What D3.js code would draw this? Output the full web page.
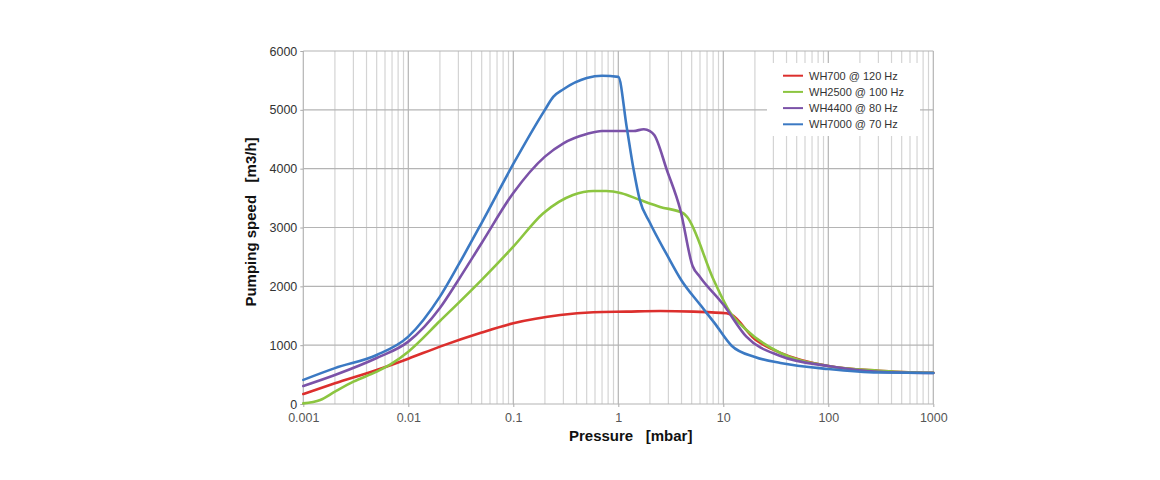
<!DOCTYPE html>
<html>
<head>
<meta charset="utf-8">
<script src="https://cdn.jsdelivr.net/npm/d3@7"></script>
<style>
  html, body { margin: 0; padding: 0; background: #fff; }
  svg { display: block; font-family: "Liberation Sans", Arial, Helvetica, sans-serif; }
</style>
</head>
<body>
<svg id="chart" width="1160" height="480"></svg>
<script>
// ---- data ----
const xTickValues = [0.001, 0.01, 0.1, 1, 10, 100, 1000];
const xTickLabels = ["0.001", "0.01", "0.1", "1", "10", "100", "1000"];
const yTickValues = [0, 1000, 2000, 3000, 4000, 5000, 6000];

const seriesNames = ["WH700 @ 120 Hz", "WH2500 @ 100 Hz", "WH4400 @ 80 Hz", "WH7000 @ 70 Hz"];
const seriesColors = ["#dc2f2d", "#8cc540", "#7b52a8", "#3b79c3"];

const wh700P = [0.001, 0.002, 0.005, 0.01, 0.02, 0.05, 0.1, 0.28, 0.58, 1.2, 2.5, 5.2, 10.7, 11.8, 20, 35, 100, 300, 1000];
const wh700S = [170, 351, 578, 770, 975, 1215, 1372, 1513, 1559, 1570, 1581, 1570, 1542, 1520, 1100, 870, 646, 566, 530];

const wh2500P = [0.001, 0.00145, 0.002, 0.003, 0.005, 0.007, 0.01, 0.02, 0.05, 0.1, 0.193, 0.37, 0.58, 0.77, 1.07, 1.6, 2.5, 4.16, 4.5, 8.1, 11.5, 16.6, 35, 100, 300, 1000];
const wh2500S = [10, 68, 210, 380, 550, 690, 890, 1410, 2110, 2674, 3242, 3553, 3621, 3621, 3582, 3470, 3350, 3242, 3185, 2108, 1570, 1258, 867, 646, 566, 530];

const wh4400P = [0.001, 0.002, 0.005, 0.01, 0.02, 0.03, 0.05, 0.1, 0.2, 0.3, 0.5, 0.7, 1.0, 1.4, 1.75, 2.0, 2.2, 2.9, 3.9, 5.1, 6.0, 10, 16.6, 35, 100, 300, 1000];
const wh4400S = [306, 493, 782, 1060, 1632, 2108, 2737, 3587, 4205, 4432, 4590, 4641, 4641, 4640, 4670, 4640, 4573, 3978, 3298, 2346, 2160, 1690, 1144, 816, 646, 549, 527];

const wh7000P = [0.001, 0.002, 0.005, 0.01, 0.02, 0.03, 0.05, 0.1, 0.2, 0.24, 0.3, 0.5, 0.7, 1.0, 1.2, 1.4, 1.6, 2.0, 2.9, 4.0, 6.0, 8.3, 12, 20, 35, 100, 300, 1000];
const wh7000S = [410, 610, 833, 1145, 1825, 2363, 3080, 4080, 5000, 5220, 5350, 5540, 5580, 5560, 4715, 3980, 3470, 3080, 2540, 2100, 1690, 1370, 991, 800, 697, 595, 535, 527];

const seriesP = [wh700P, wh2500P, wh4400P, wh7000P];
const seriesS = [wh700S, wh2500S, wh4400S, wh7000S];

// ---- chart ----
const svg = d3.select("#chart");
const x = d3.scaleLog().domain([0.001, 1000]).range([303.3, 933.3]);
const y = d3.scaleLinear().domain([0, 6000]).range([404, 51]);

// minor vertical gridlines
const minor = [];
for (let e = -3; e < 3; e++) {
  for (let m = 2; m <= 9; m++) minor.push(m * Math.pow(10, e));
}
const grid = svg.append("g");
grid.selectAll("line.minor").data(minor).enter().append("line")
  .attr("class", "minor")
  .attr("x1", d => x(d)).attr("x2", d => x(d))
  .attr("y1", y(6000)).attr("y2", y(0))
  .attr("stroke", "#d4d4d4").attr("stroke-width", 1.2);
grid.selectAll("line.hmaj").data(yTickValues).enter().append("line")
  .attr("class", "hmaj")
  .attr("x1", x(0.001)).attr("x2", x(1000))
  .attr("y1", d => y(d)).attr("y2", d => y(d))
  .attr("stroke", "#b4b4b4").attr("stroke-width", 1.2);
grid.selectAll("line.vmaj").data(xTickValues).enter().append("line")
  .attr("class", "vmaj")
  .attr("x1", d => x(d)).attr("x2", d => x(d))
  .attr("y1", y(6000)).attr("y2", y(0))
  .attr("stroke", "#b4b4b4").attr("stroke-width", 1.2);

// axes
const yAxis = svg.append("g").attr("transform", `translate(${x(0.001)},0)`)
  .call(d3.axisLeft(y).tickValues(yTickValues).tickSize(3).tickPadding(3).tickFormat(d3.format("d")));
yAxis.select(".domain").remove();
yAxis.selectAll("line").attr("stroke", "#aaa");
yAxis.selectAll("text").attr("font-size", 12.5).attr("fill", "#333")
  .style("font-family", "Liberation Sans, Arial, sans-serif");

const xAxis = svg.append("g").attr("transform", `translate(0,${y(0)})`)
  .call(d3.axisBottom(x).tickValues(xTickValues).tickSize(3).tickPadding(6)
    .tickFormat((d, i) => xTickLabels[i]));
xAxis.select(".domain").remove();
xAxis.selectAll("line").attr("stroke", "#aaa");
xAxis.selectAll("text").attr("font-size", 12.5).attr("fill", "#555")
  .style("font-family", "Liberation Sans, Arial, sans-serif");

// lines
const line = d3.line().curve(d3.curveMonotoneX);
seriesP.forEach((P, i) => {
  const pts = P.map((p, j) => [x(p), y(seriesS[i][j])]);
  svg.append("path")
    .attr("d", line(pts))
    .attr("fill", "none")
    .attr("stroke", seriesColors[i])
    .attr("stroke-width", 2.6)
    .attr("stroke-linejoin", "round")
    .attr("stroke-linecap", "round");
});

// legend
const lg = svg.append("g");
lg.append("rect").attr("x", 767).attr("y", 63).attr("width", 153).attr("height", 73).attr("fill", "#fff");
seriesNames.forEach((name, i) => {
  const yy = 75.7 + i * 16.2;
  lg.append("line").attr("x1", 783).attr("x2", 803).attr("y1", yy).attr("y2", yy)
    .attr("stroke", seriesColors[i]).attr("stroke-width", 2);
  lg.append("text").attr("x", 809).attr("y", yy + 4).attr("font-size", 11).attr("fill", "#333").text(name);
});

// axis titles
svg.append("text").attr("x", 569).attr("y", 441)
  .attr("font-size", 15).attr("font-weight", "bold").attr("fill", "#111")
  .attr("xml:space", "preserve").style("white-space", "pre")
  .text("Pressure   [mbar]");
svg.append("text").attr("transform", "translate(256,222) rotate(-90)")
  .attr("text-anchor", "middle")
  .attr("font-size", 15).attr("font-weight", "bold").attr("fill", "#111")
  .attr("xml:space", "preserve").style("white-space", "pre")
  .text("Pumping speed   [m3/h]");
</script>
</body>
</html>
